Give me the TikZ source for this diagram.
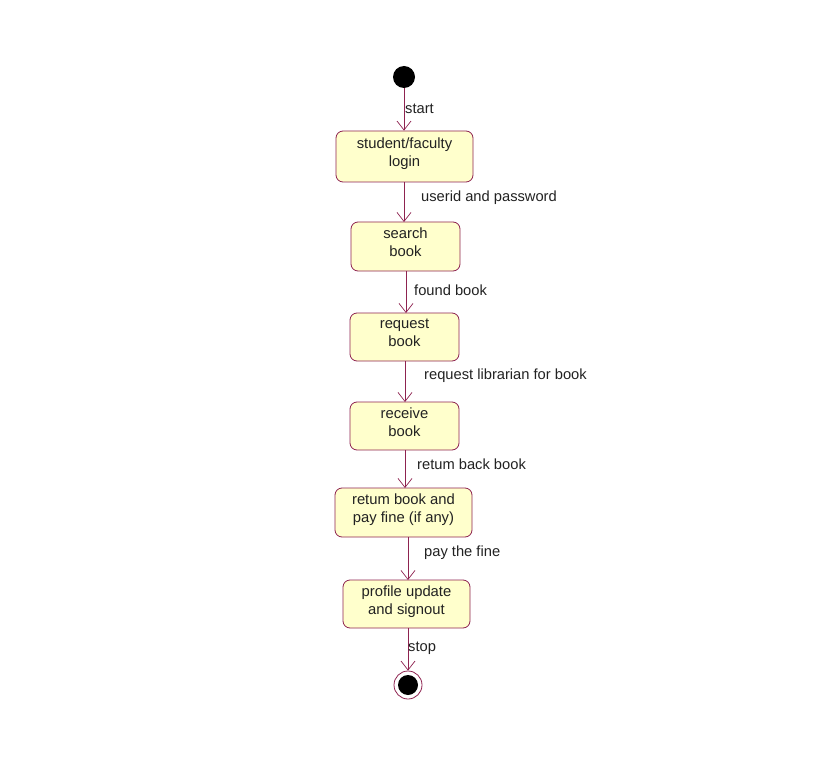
\documentclass[tikz,border=0pt]{standalone}
\usepackage{fontspec}
\setmainfont{Liberation Sans}
\usetikzlibrary{arrows.meta}
\definecolor{edge}{HTML}{8E2350}
\definecolor{boxfill}{HTML}{FFFFCC}
\definecolor{txt}{HTML}{222222}
\newcommand{\lowfill}{\rule[-8pt]{0pt}{8pt}}
\begin{document}
\begin{tikzpicture}[x=1pt,y=-1pt,
  statebox/.style={draw=edge, fill=boxfill, rounded corners=7pt, line width=0.8pt,
    text=txt, font=\fontsize{14.8}{18}\selectfont, align=center, inner sep=0pt},
  flow/.style={draw=edge, line width=0.7pt, -{Straight Barb[length=9pt,width=14pt,line width=0.7pt]}},
  lbl/.style={text=txt, font=\fontsize{14.7}{16}\selectfont, anchor=west, inner sep=0pt}
]
\useasboundingbox (0,0) rectangle (838,770);
\fill[white] (0,0) rectangle (838,770);

\node[circle, fill=black, minimum size=22pt, inner sep=0pt] (s) at (404,77) {};

\node[statebox, minimum width=137pt, minimum height=51pt] (b1) at (404.5,156.5) {student/faculty\\login\lowfill};
\node[statebox, minimum width=109pt, minimum height=49pt] (b2) at (405.5,246.5) {search\\book\lowfill};
\node[statebox, minimum width=109pt, minimum height=48pt] (b3) at (404.5,337) {request\\book\lowfill};
\node[statebox, minimum width=109pt, minimum height=48pt] (b4) at (404.5,426) {receive\\book\lowfill};
\node[statebox, minimum width=137pt, minimum height=49pt] (b5) at (403.5,512.5) {retum book and\\pay fine (if any)\lowfill};
\node[statebox, minimum width=127pt, minimum height=48pt] (b6) at (406.5,604) {profile update\\and signout\lowfill};

\node[circle, draw=edge, line width=0.8pt, fill=white, minimum size=28pt, inner sep=0pt] (e) at (408,685) {};
\node[circle, fill=black, minimum size=20pt, inner sep=0pt] (ei) at (408,685) {};

\draw[flow] (s.south) -- (b1.north -| s.south);
\draw[flow] (404,182) -- (404,222);
\draw[flow] (406,271) -- (406,313);
\draw[flow] (405,361) -- (405,402);
\draw[flow] (405,450) -- (405,488);
\draw[flow] (408,537) -- (408,580);
\draw[flow] (408,628) -- (e.north);

\node[lbl] (l1) at (405,109) {start};
\node[lbl] (l2) at (421,198) {userid and password};
\node[lbl] (l3) at (414,290) {found book};
\node[lbl] (l4) at (424,376) {request librarian for book};
\node[lbl] (l5) at (417,464) {retum back book};
\node[lbl] (l6) at (424,553) {pay the fine};
\node[lbl] (l7) at (408,648) {stop};
\end{tikzpicture}
\end{document}
